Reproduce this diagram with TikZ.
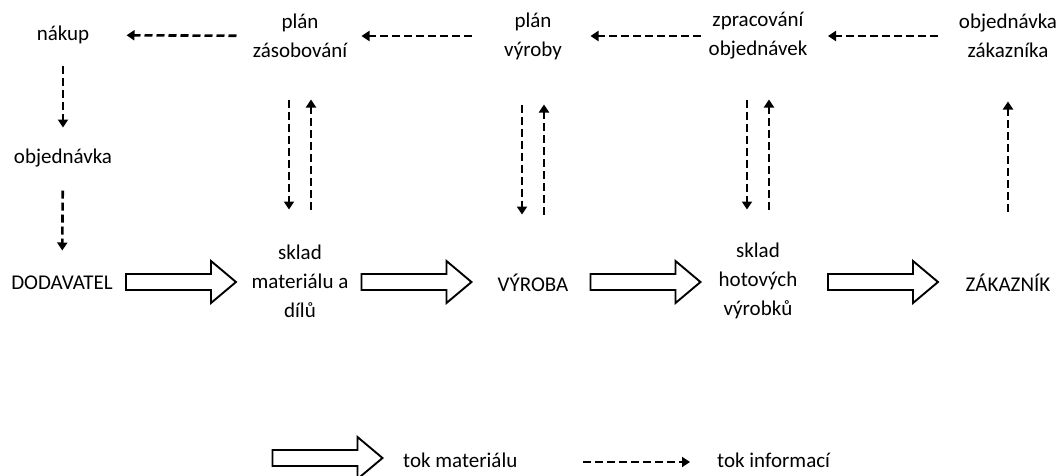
\documentclass[tikz,border=0pt]{standalone}
\usepackage{fontspec}
\setmainfont{Carlito}
\usetikzlibrary{arrows.meta, calc}
\tikzset{
  lbl/.style={align=center, inner sep=0pt, font=\fontsize{21}{29}\selectfont},
  info/.style={draw, dash pattern=on 8pt off 4pt, line width=2.6pt,
    -{Triangle[length=8pt, width=10pt]},
    to path={let \p1=(\tikztostart), \p2=(\tikztotarget), \p3=($(\p1)!.5!(\p2)$)
      in ($(\p3)!#1!(\p1)$) -- ($(\p3)!#1!(\p2)$)}},
  info/.default=55pt,
  tok/.style={draw, line width=1.9pt, fill=white,
    to path={let \p1=($(\tikztostart)!.5!(\tikztotarget)$) in
      (\x1-55pt,\y1+8pt) -- (\x1+30pt,\y1+8pt) -- (\x1+30pt,\y1+21pt) -- (\x1+55pt,\y1)
      -- (\x1+30pt,\y1-21pt) -- (\x1+30pt,\y1-8pt) -- (\x1-55pt,\y1-8pt) -- cycle}},
}
\begin{document}
\begin{tikzpicture}[x=1pt, y=-1pt]
  \useasboundingbox (0,0) rectangle (1061,475);

  % information level
  \node[lbl] (nak) at (63,35) {nákup};
  \node[lbl] (plz) at (300,36) {plán\\zásobování};
  \node[lbl] (pvy) at (533,36) {plán\\výroby};
  \node[lbl] (zpr) at (758,36) {zpracování\\objednávek};
  \node[lbl] (oz) at (1008,36) {objednávka\\zákazníka};
  \node[lbl] (obj) at (63,158) {objednávka};

  % material level
  \node[lbl] (dod) at (62,283) {DODAVATEL};
  \node[lbl] (skm) at (300,281) {sklad\\materiálu a\\dílů};
  \node[lbl] (vyr) at (533,283) {VÝROBA};
  \node[lbl] (skh) at (758,281) {sklad\\hotových\\výrobků};
  \node[lbl] (zak) at (1008,283) {ZÁKAZNÍK};

  \draw[info] (plz) to (nak);
  \draw[info] (pvy) to (plz);
  \draw[info] (zpr) to (pvy);
  \draw[info] (oz) to (zpr);
  \draw[info=31pt] (nak) to (obj);
  \draw[info=30pt] (obj) to (dod);
  \draw[info, transform canvas={shift={(-11pt,4pt)}}] (plz) to (skm);
  \draw[info, transform canvas={shift={(11pt,4pt)}}] (skm) to (plz);
  \draw[info, transform canvas={xshift=-11pt}] (pvy) to (vyr);
  \draw[info, transform canvas={xshift=11pt}] (vyr) to (pvy);
  \draw[info, transform canvas={shift={(-11pt,4pt)}}] (zpr) to (skh);
  \draw[info, transform canvas={shift={(11pt,4pt)}}] (skh) to (zpr);
  \draw[info, transform canvas={yshift=3pt}] (zak) to (oz);

  \draw[tok] (dod) to (skm);
  \draw[tok] (skm) to (vyr);
  \draw[tok] (vyr) to (skh);
  \draw[tok] (skh) to (zak);

  % legend
  \coordinate (lm1) at (273,458);
  \coordinate (lm2) at (382,458);
  \draw[tok] (lm1) to (lm2);
  \node[lbl, anchor=west] (ltm) at (403,460) {tok materiálu};
  \coordinate (li1) at (583,462);
  \coordinate (li2) at (690,462);
  \draw[info=53.5pt] (li1) to (li2);
  \node[lbl, anchor=west] (lti) at (717,460) {tok informací};
\end{tikzpicture}
\end{document}
